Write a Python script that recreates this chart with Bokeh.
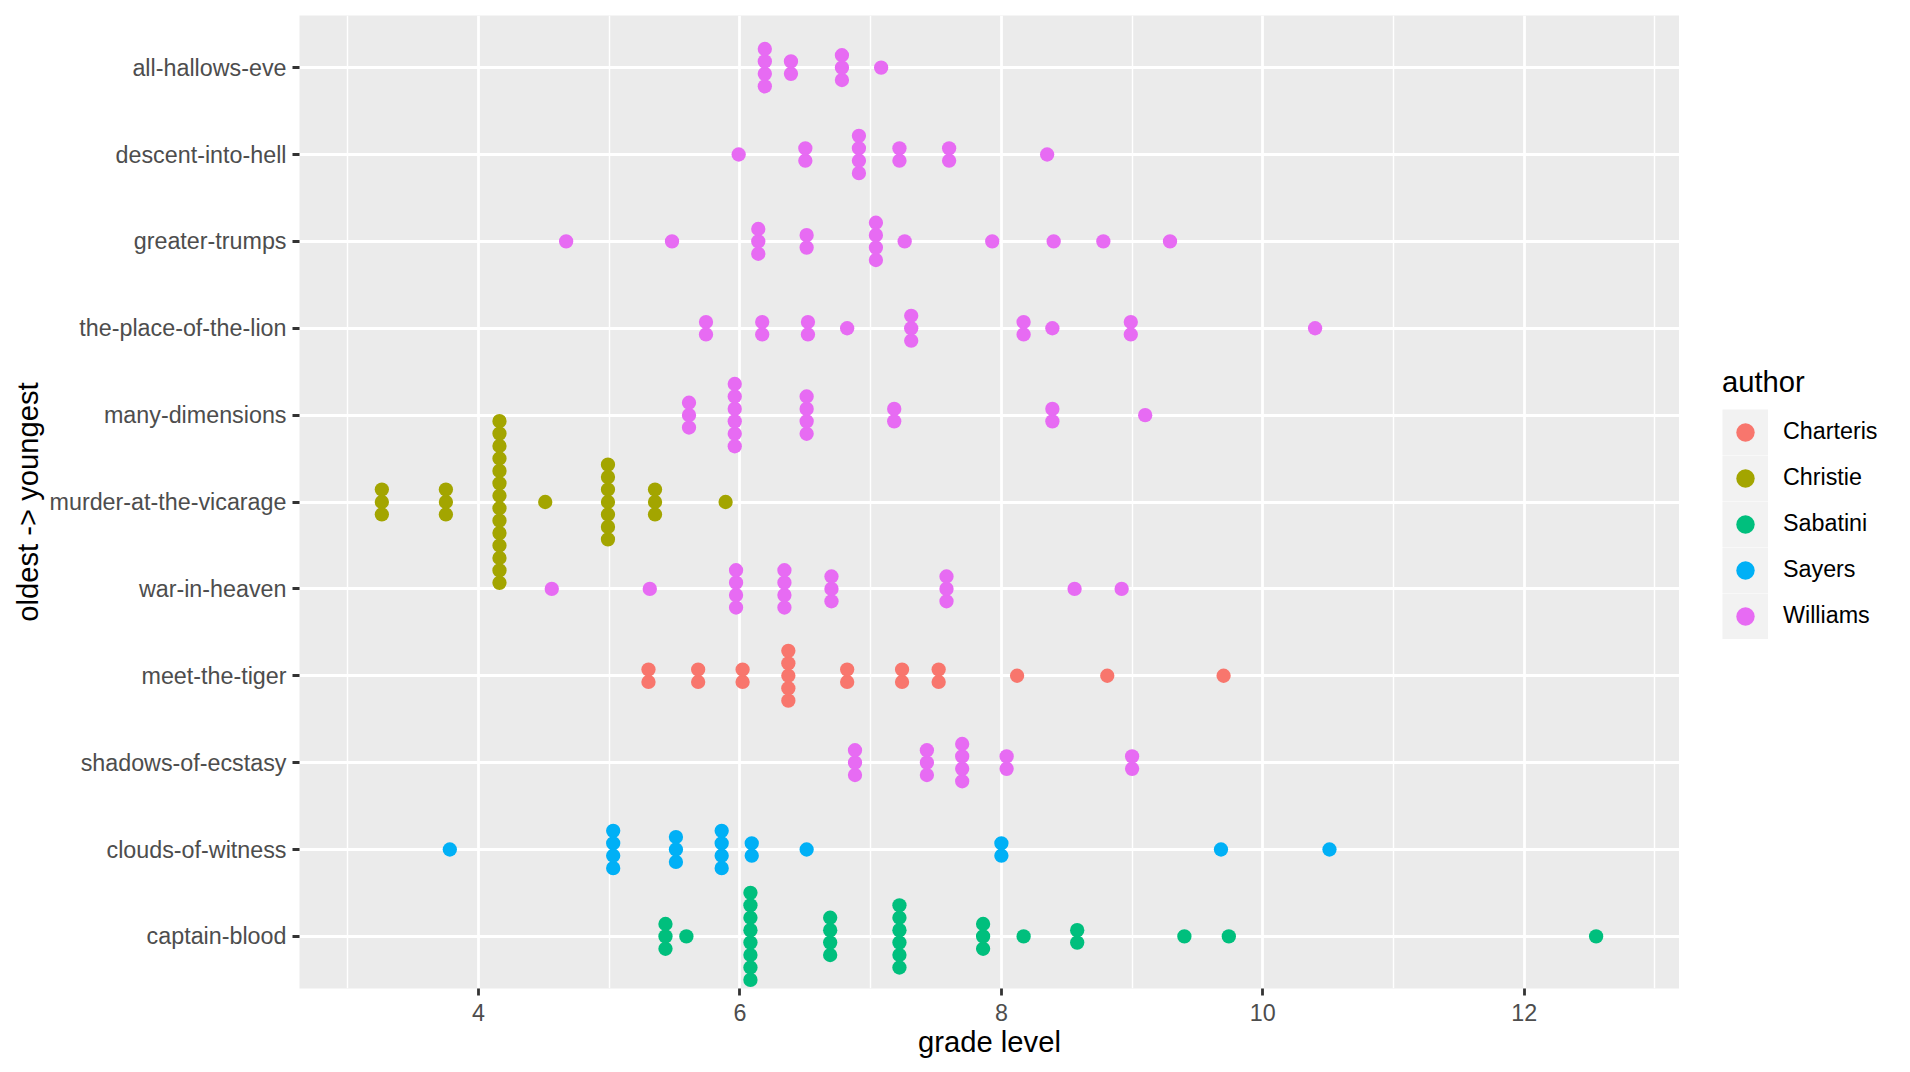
from collections import Counter
from bokeh.plotting import figure
from bokeh.layouts import row
from bokeh.models import Range1d, FixedTicker, Legend, LegendItem, ColumnDataSource
from bokeh.embed import file_html
from bokeh.resources import INLINE

# ---- data: grade level of each dot, per book (top row first) ----
books = ["all-hallows-eve", "descent-into-hell", "greater-trumps",
         "the-place-of-the-lion", "many-dimensions", "murder-at-the-vicarage",
         "war-in-heaven", "meet-the-tiger", "shadows-of-ecstasy",
         "clouds-of-witness", "captain-blood"]
book_author = ["Williams", "Williams", "Williams", "Williams", "Williams",
               "Christie", "Williams", "Charteris", "Williams", "Sayers",
               "Sabatini"]

all_hallows_eve = [6.19, 6.19, 6.19, 6.19, 6.39, 6.39, 6.78, 6.78, 6.78, 7.08]
descent_into_hell = [5.99, 6.50, 6.50, 6.91, 6.91, 6.91, 6.91, 7.22, 7.22,
                     7.60, 7.60, 8.35]
greater_trumps = [4.67, 5.48, 6.14, 6.14, 6.14, 6.51, 6.51, 7.04, 7.04, 7.04,
                  7.04, 7.26, 7.93, 8.40, 8.78, 9.29]
place_of_the_lion = [5.74, 5.74, 6.17, 6.17, 6.52, 6.52, 6.82, 7.31, 7.31,
                     7.31, 8.17, 8.17, 8.39, 8.99, 8.99, 10.40]
many_dimensions = [5.61, 5.61, 5.61, 5.96, 5.96, 5.96, 5.96, 5.96, 5.96,
                   6.51, 6.51, 6.51, 6.51, 7.18, 7.18, 8.39, 8.39, 9.10]
murder_at_the_vicarage = [3.26, 3.26, 3.26, 3.75, 3.75, 3.75,
                          4.16, 4.16, 4.16, 4.16, 4.16, 4.16, 4.16,
                          4.16, 4.16, 4.16, 4.16, 4.16, 4.16, 4.16,
                          4.51, 4.99, 4.99, 4.99, 4.99, 4.99, 4.99, 4.99,
                          5.35, 5.35, 5.35, 5.89]
war_in_heaven = [4.56, 5.31, 5.97, 5.97, 5.97, 5.97, 6.34, 6.34, 6.34, 6.34,
                 6.70, 6.70, 6.70, 7.58, 7.58, 7.58, 8.56, 8.92]
meet_the_tiger = [5.30, 5.30, 5.68, 5.68, 6.02, 6.02, 6.37, 6.37, 6.37, 6.37,
                  6.37, 6.82, 6.82, 7.24, 7.24, 7.52, 7.52, 8.12, 8.81, 9.70]
shadows_of_ecstasy = [6.88, 6.88, 6.88, 7.43, 7.43, 7.43, 7.70, 7.70, 7.70,
                      7.70, 8.04, 8.04, 9.00, 9.00]
clouds_of_witness = [3.78, 5.03, 5.03, 5.03, 5.03, 5.51, 5.51, 5.51, 5.86,
                     5.86, 5.86, 5.86, 6.09, 6.09, 6.51, 8.00, 8.00, 9.68,
                     10.51]
captain_blood = [5.43, 5.43, 5.43, 5.59, 6.08, 6.08, 6.08, 6.08, 6.08, 6.08,
                 6.08, 6.08, 6.69, 6.69, 6.69, 6.69, 7.22, 7.22, 7.22, 7.22,
                 7.22, 7.22, 7.86, 7.86, 7.86, 8.17, 8.58, 8.58, 9.40, 9.74,
                 12.55]

book_values = [all_hallows_eve, descent_into_hell, greater_trumps,
               place_of_the_lion, many_dimensions, murder_at_the_vicarage,
               war_in_heaven, meet_the_tiger, shadows_of_ecstasy,
               clouds_of_witness, captain_blood]

authors = ["Charteris", "Christie", "Sabatini", "Sayers", "Williams"]
author_colors = ["#F8766D", "#A3A500", "#00BF7D", "#00B0F6", "#E76BF3"]

x_ticks = [4, 6, 8, 10, 12]
x_minor = [3, 5, 7, 9, 11, 13]

# ---- layout ----
W, H = 1894, 1064
FRAME_W, FRAME_H = 1380, 973
ML, MT = 299, 15
MB = H - MT - FRAME_H
PW = ML + FRAME_W          # main plot width (no right border)
LW = W - PW                # legend strip width
Y0, Y1 = 0.4, len(books) + 0.6
DOT_SIZE = 14.3
STEP_PX = 12.44
step = STEP_PX * (Y1 - Y0) / FRAME_H

FONT = "Liberation Sans"

p = figure(width=PW, height=H, x_range=Range1d(2.63, 13.188),
           y_range=Range1d(Y0, Y1), output_backend="svg",
           toolbar_location=None, min_border_left=ML, min_border_right=0,
           min_border_top=MT, min_border_bottom=MB)
p.background_fill_color = "#EBEBEB"
p.border_fill_color = "white"
p.outline_line_color = None

n = len(books)
row_of = {b: n - i for i, b in enumerate(books)}

# stacked dot positions per author
pts = {a: {"x": [], "y": []} for a in authors}
for b, a, vals in zip(books, book_author, book_values):
    r = row_of[b]
    cnt = Counter(vals)
    for v in sorted(cnt):
        k = cnt[v]
        for j in range(k):
            pts[a]["x"].append(v)
            pts[a]["y"].append(r + (j - (k - 1) / 2) * step)

sources = {a: ColumnDataSource(pts[a]) for a in authors}
for a, c in zip(authors, author_colors):
    p.scatter("x", "y", source=sources[a], marker="circle",
              size=DOT_SIZE, fill_color=c, line_color=None)

# axes & grid
xt = FixedTicker(ticks=x_ticks, minor_ticks=x_minor)
yt = FixedTicker(ticks=list(range(1, n + 1)))
p.xaxis.ticker = xt
p.xgrid.ticker = xt
p.yaxis.ticker = yt
p.ygrid.ticker = yt
p.yaxis.major_label_overrides = {row_of[b]: b for b in books}

for g in (p.xgrid, p.ygrid):
    g.grid_line_color = "white"
    g.grid_line_width = 2.8
p.xgrid.minor_grid_line_color = "white"
p.xgrid.minor_grid_line_width = 1.4

for ax in (p.xaxis, p.yaxis):
    ax.axis_line_color = None
    ax.major_tick_line_color = "#333333"
    ax.major_tick_line_width = 2.8
    ax.major_tick_out = 7
    ax.major_tick_in = 0
    ax.minor_tick_line_color = None
    ax.major_label_text_font = FONT
    ax.major_label_text_font_size = "23.3px"
    ax.major_label_text_color = "#4D4D4D"
    ax.axis_label_text_font = FONT
    ax.axis_label_text_font_size = "29.2px"
    ax.axis_label_text_font_style = "normal"
    ax.axis_label_text_color = "black"

p.xaxis.axis_label = "grade level"
p.yaxis.axis_label = "oldest -> youngest"
p.xaxis.major_label_standoff = 8
p.xaxis.axis_label_standoff = 2
p.yaxis.major_label_standoff = 6
p.yaxis.axis_label_standoff = 3

# ---- legend strip (separate figure to the right) ----
q = figure(width=LW, height=H, x_range=Range1d(0, 1), y_range=Range1d(0, 1),
           output_backend="svg", toolbar_location=None,
           min_border_left=0, min_border_right=0, min_border_top=0,
           min_border_bottom=0)
q.axis.visible = False
q.grid.visible = False
q.outline_line_color = None
q.background_fill_color = "white"
q.border_fill_color = "white"

items = []
for a, c in zip(authors, author_colors):
    # the author's own points, lying outside this strip's ranges (not drawn)
    bg = q.line("x", "y", source=sources[a], line_color="#F2F2F2",
                line_width=46)
    dot = q.scatter("x", "y", source=sources[a], marker="circle",
                    size=DOT_SIZE, fill_color=c, line_color=None)
    items.append(LegendItem(label=a, renderers=[bg, dot]))

legend = Legend(items=items, location=(43, 349.5), margin=0, padding=0,
                spacing=0, glyph_width=46, glyph_height=46, label_height=46,
                label_standoff=15, title="author", title_standoff=10,
                border_line_color=None, background_fill_alpha=0)
legend.label_text_font = FONT
legend.label_text_font_size = "23.3px"
legend.label_text_color = "black"
legend.title_text_font = FONT
legend.title_text_font_size = "29.2px"
legend.title_text_font_style = "normal"
legend.title_text_color = "black"
q.add_layout(legend)

layout = row(p, q)
open("out.html", "w").write(file_html(layout, INLINE))
